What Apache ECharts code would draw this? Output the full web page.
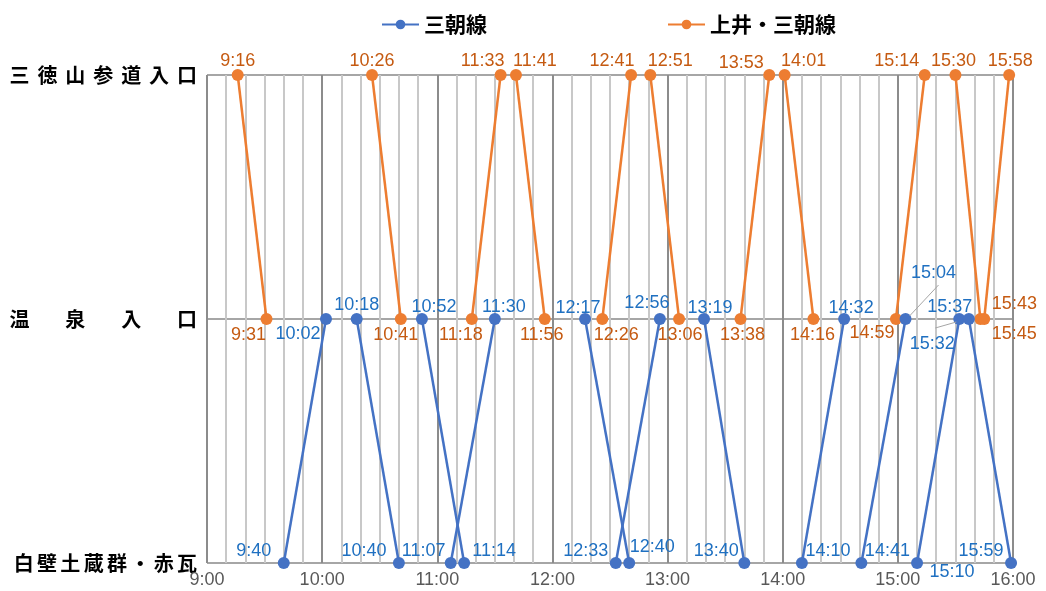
<!DOCTYPE html>
<html>
<head>
<meta charset="utf-8">
<style>
  html, body { margin: 0; padding: 0; background: #ffffff; }
  #chart { width: 1046px; height: 591px; }
</style>
<script src="https://cdn.jsdelivr.net/npm/echarts@6/dist/echarts.min.js"></script>
</head>
<body>
<div id="chart"></div>
<script>
// ---- data ----
const stops = ['白壁土蔵群・赤瓦', '温泉入口', '三徳山参道入口'];
const hourLabels = ['9:00', '10:00', '11:00', '12:00', '13:00', '14:00', '15:00', '16:00'];
const seriesNames = ['三朝線', '上井・三朝線'];

// 三朝線 trips: times and stop index (0 = 白壁土蔵群・赤瓦, 1 = 温泉入口, 2 = 三徳山参道入口)
const blueTimes = [['9:40','10:02'],['10:18','10:40'],['10:52','11:14'],['11:07','11:30'],['12:17','12:40'],['12:33','12:56'],['13:19','13:40'],['14:10','14:32'],['14:41','15:04'],['15:10','15:32'],['15:37','15:59']];
const blueStops = [[0,1],[1,0],[1,0],[0,1],[1,0],[0,1],[1,0],[0,1],[0,1],[0,1],[1,0]];

// 上井・三朝線 trips
const orangeTimes = [['9:16','9:31'],['10:26','10:41'],['11:18','11:33'],['11:41','11:56'],['12:26','12:41'],['12:51','13:06'],['13:38','13:53'],['14:01','14:16'],['14:59','15:14'],['15:30','15:43'],['15:45','15:58']];
const orangeStops = [[2,1],[2,1],[1,2],[2,1],[1,2],[2,1],[1,2],[2,1],[1,2],[2,1],[1,2]];

// ---- label placement (pixels, relative to the marker) ----
const blueLabelOffsets = [
  [[-30,-12],[-28,15]], [[0,-14],[-35,-12]], [[12,-12],[30,-12]], [[-27,-12],[9,-12]],
  [[-7,-11],[23,-16]], [[-30,-12],[-13,-16]], [[6,-11],[-28,-12]], [[26,-12],[7,-11]],
  [[26,-12],[28,-46]], [[35,9],[-27,25]], [[-19,-12],[-30,-12]]
];
const orangeLabelOffsets = [
  [[0,-14],[-18,16]], [[0,-14],[-5,16]], [[-11,16],[-18,-14]], [[19,-14],[-3,16]],
  [[14,16],[-19,-14]], [[20,-14],[1,16]], [[2,16],[-28,-12]], [[19,-14],[-1,16]],
  [[-24,14],[-28,-14]], [[-2,-14],[34,-15]], [[30,15],[1,-14]]
];
// leader lines for some 三朝線 labels: [time, stop, start offset, end offset] (pixels from marker)
const leaderLines = [
  ['15:04', 1, [4,-3], [33,-34]],
  ['15:32', 1, [-3,3], [-24,9]]
];

// ---- helpers ----
function toMin(t) { const p = t.split(':'); return (+p[0] - 9) * 60 + (+p[1]); }
function spaced(s, gap) { return s.split('').join(gap); }

const BLUE = '#4472C4', BLUE_TXT = '#1F70C1';
const ORANGE = '#ED7D31', ORANGE_TXT = '#C55A11';
const labelFont = { fontFamily: 'Liberation Sans', fontSize: 18 };

const series = [];
const offsetsBySeries = [];

function addTrips(name, times, stopsArr, offs, lineColor, txtColor, z) {
  times.forEach((pair, i) => {
    const data = pair.map((t, j) => ({ value: [toMin(t), stopsArr[i][j], t] }));
    offsetsBySeries.push(offs[i]);
    series.push({
      name: name,
      type: 'line',
      z: z,
      data: data,
      symbol: 'circle',
      symbolSize: 12,
      showSymbol: true,
      animation: false,
      lineStyle: { color: lineColor, width: 2.5 },
      itemStyle: { color: lineColor },
      label: Object.assign({
        show: true,
        position: 'inside',
        align: 'center',
        verticalAlign: 'middle',
        color: txtColor,
        formatter: p => p.value[2]
      }, labelFont)
    });
  });
}
addTrips(seriesNames[0], blueTimes, blueStops, blueLabelOffsets, BLUE, BLUE_TXT, 3);
addTrips(seriesNames[1], orangeTimes, orangeStops, orangeLabelOffsets, ORANGE, ORANGE_TXT, 2);

const stopLabels = [
  spaced(stops[0], '\u2006'),
  spaced(stops[1], '\u2004\u200A\u3000\u2004\u200A'),
  spaced(stops[2], '\u2004\u200A')
];

const minorColor = '#c8c8c8', majorColor = '#8c8c8c';
const chart = echarts.init(document.getElementById('chart'));
chart.setOption({
  animation: false,
  backgroundColor: '#ffffff',
  legend: {
    data: seriesNames,
    left: 376,
    top: 9,
    itemWidth: 37,
    itemHeight: 12,
    itemGap: 180,
    textStyle: { fontFamily: 'Noto Sans CJK JP', fontSize: 21, fontWeight: 'bold', color: '#000000' }
  },
  grid: { left: 207, right: 33, top: 75, bottom: 28, containLabel: false },
  xAxis: {
    type: 'value',
    min: 0,
    max: 420,
    interval: 10,
    axisLine: { show: false },
    axisTick: { show: false },
    splitLine: {
      show: true,
      lineStyle: { width: 2, color: [majorColor, minorColor, minorColor, minorColor, minorColor, minorColor] }
    },
    axisLabel: {
      margin: 8,
      color: '#595959',
      fontFamily: 'Liberation Sans',
      fontSize: 18,
      formatter: v => (v % 60 === 0 ? hourLabels[v / 60] : '')
    }
  },
  yAxis: {
    type: 'value',
    min: 0,
    max: 2,
    interval: 1,
    axisLine: { show: false },
    axisTick: { show: false },
    splitLine: { show: true, lineStyle: { color: '#a6a6a6', width: 2 } },
    axisLabel: {
      margin: 10,
      color: '#000000',
      fontFamily: 'Noto Sans CJK JP',
      fontWeight: 'bold',
      fontSize: 20,
      formatter: v => stopLabels[v] || ''
    }
  },
  labelLayout: function (params) {
    const arr = offsetsBySeries[params.seriesIndex];
    const o = arr && arr[params.dataIndex];
    return o ? { dx: o[0], dy: o[1] } : {};
  },
  series: series
});

// leader lines, anchored to markers through the chart's own coordinate conversion
const leaders = leaderLines.map(([t, s, a, b]) => {
  const p = chart.convertToPixel({ gridIndex: 0 }, [toMin(t), s]);
  return {
    type: 'line',
    z: 10,
    silent: true,
    shape: { x1: p[0] + a[0], y1: p[1] + a[1], x2: p[0] + b[0], y2: p[1] + b[1] },
    style: { stroke: '#a6a6a6', lineWidth: 1 }
  };
});
chart.setOption({ graphic: leaders });
</script>
</body>
</html>
